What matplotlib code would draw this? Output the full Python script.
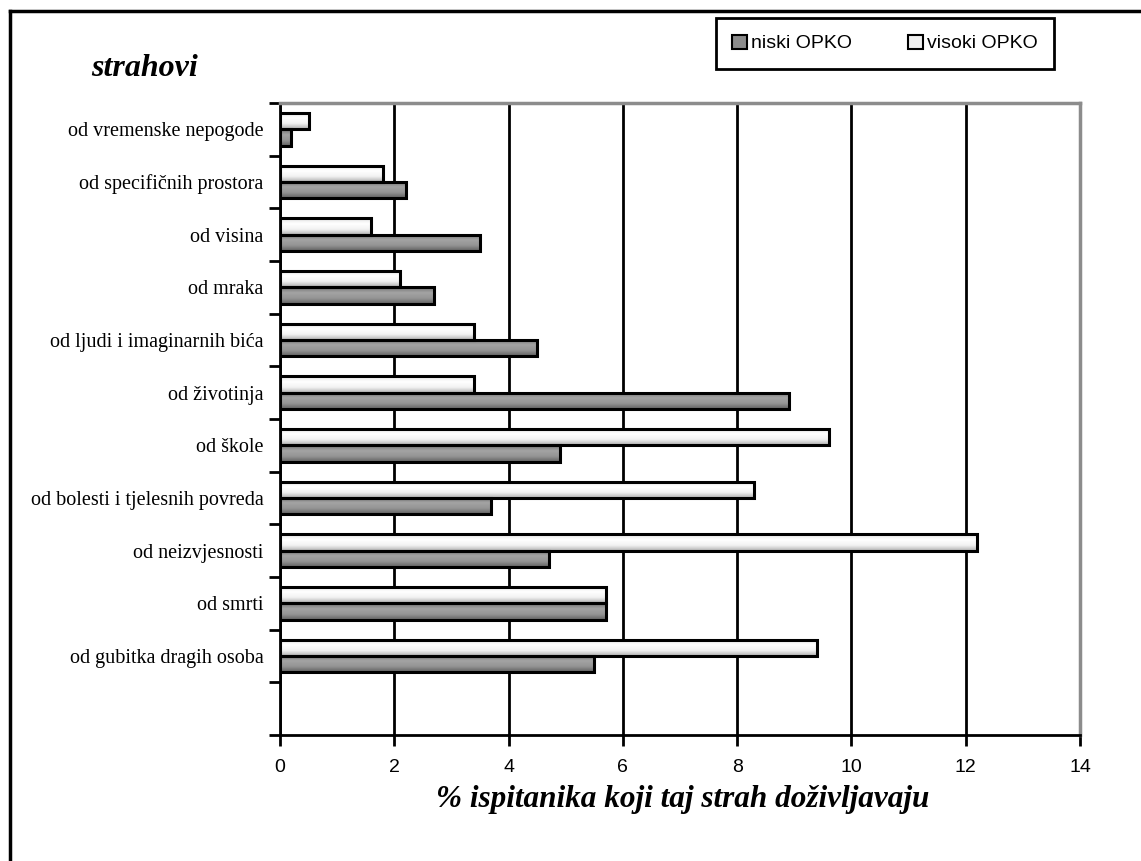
import matplotlib
matplotlib.use("Agg")
import matplotlib.pyplot as plt
import numpy as np
from matplotlib.colors import LinearSegmentedColormap
from matplotlib.lines import Line2D
from matplotlib.patches import Patch

# Data (top to bottom)
categories = [
    "od vremenske nepogode",
    "od specifičnih prostora",
    "od visina",
    "od mraka",
    "od ljudi i imaginarnih bića",
    "od životinja",
    "od škole",
    "od bolesti i tjelesnih povreda",
    "od neizvjesnosti",
    "od smrti",
    "od gubitka dragih osoba",
]
visoki = [0.5, 1.8, 1.6, 2.1, 3.4, 3.4, 9.6, 8.3, 12.2, 5.7, 9.4]
niski = [0.2, 2.2, 3.5, 2.7, 4.5, 8.9, 4.9, 3.7, 4.7, 5.7, 5.5]
series_labels = ["niski OPKO", "visoki OPKO"]
xticks = [0, 2, 4, 6, 8, 10, 12, 14]

SERIF = ["Liberation Serif", "DejaVu Serif"]
SANS = ["Liberation Sans", "DejaVu Sans"]
BAR_H = 0.31

cmap_hi = LinearSegmentedColormap.from_list("hi", ["#e6e6e6", "#ffffff", "#f2f2f2", "#b0b0b0"])
cmap_lo = LinearSegmentedColormap.from_list("lo", ["#747474", "#a4a4a4", "#949494", "#626262"])
grad = np.linspace(0, 1, 64).reshape(-1, 1)

fig = plt.figure(figsize=(11.41, 8.61), dpi=100)
ax = fig.add_axes([280 / 1141, 1 - 735 / 861, 800 / 1141, 632 / 861])

y = np.arange(len(categories))


def gradient_bars(vals, offset, cmap):
    bars = ax.barh(y + offset, vals, height=BAR_H, facecolor="none",
                   edgecolor="black", linewidth=2.2, zorder=4)
    for b, v in zip(bars, vals):
        yc = b.get_y() + b.get_height() / 2
        im = ax.imshow(grad, extent=[0, v, yc + BAR_H / 2, yc - BAR_H / 2],
                       aspect="auto", cmap=cmap, origin="upper", zorder=3,
                       interpolation="bilinear")
        im.set_clip_path(b)
    return bars


gradient_bars(visoki, -BAR_H / 2, cmap_hi)
gradient_bars(niski, BAR_H / 2, cmap_lo)

ax.set_xlim(0, 14)
ax.set_ylim(len(categories) + 0.5, -0.5)
ax.set_xticks(xticks)
ax.set_xticklabels([str(t) for t in xticks], fontsize=14, family=SANS)
ax.set_yticks(np.arange(-0.5, len(categories) + 1, 1))
ax.set_yticklabels([])
ax.set_yticks(y, minor=True)
ax.set_yticklabels(categories, minor=True, fontsize=14.5, family=SERIF)
ax.tick_params(axis="y", which="minor", length=0, pad=12)
ax.tick_params(axis="y", which="major", length=8, width=2, direction="out")
ax.tick_params(axis="x", length=8, width=2, direction="out", pad=9)

ax.xaxis.grid(True, color="black", linewidth=2)
ax.set_axisbelow(True)
for side in ["left", "bottom"]:
    ax.spines[side].set_linewidth(2)
    ax.spines[side].set_color("black")
for side in ["top", "right"]:
    ax.spines[side].set_linewidth(2.5)
    ax.spines[side].set_color("#8c8c8c")

fig.text(145 / 1141, 1 - 68 / 861, "strahovi", fontsize=23, family=SERIF,
         style="italic", weight="bold", ha="center", va="center")
fig.text(683 / 1141, 1 - 800 / 861, "% ispitanika koji taj strah doživljavaju",
         fontsize=22.5, family=SERIF, style="italic", weight="bold",
         ha="center", va="center")

handles = [Patch(facecolor="#8c8c8c", edgecolor="black", linewidth=1.5),
           Patch(facecolor="#f0f0f0", edgecolor="black", linewidth=1.5)]
leg = fig.legend(handles, series_labels, loc="center", ncol=2,
                 bbox_to_anchor=(885 / 1141, 1 - 43.5 / 861),
                 prop={"family": SANS, "size": 14}, fancybox=False,
                 edgecolor="black", framealpha=1, handlelength=0.75,
                 handleheight=0.75, handletextpad=0.2, columnspacing=2.9,
                 borderpad=0.85, borderaxespad=0)
leg.get_frame().set_linewidth(2)

# outer frame (left and top)
fig.add_artist(Line2D([10 / 1141, 10 / 1141], [0, 1 - 11 / 861],
                      transform=fig.transFigure, color="black", linewidth=2.5))
fig.add_artist(Line2D([10 / 1141, 1], [1 - 11 / 861, 1 - 11 / 861],
                      transform=fig.transFigure, color="black", linewidth=2.5))

fig.savefig("out.png", dpi=100)
